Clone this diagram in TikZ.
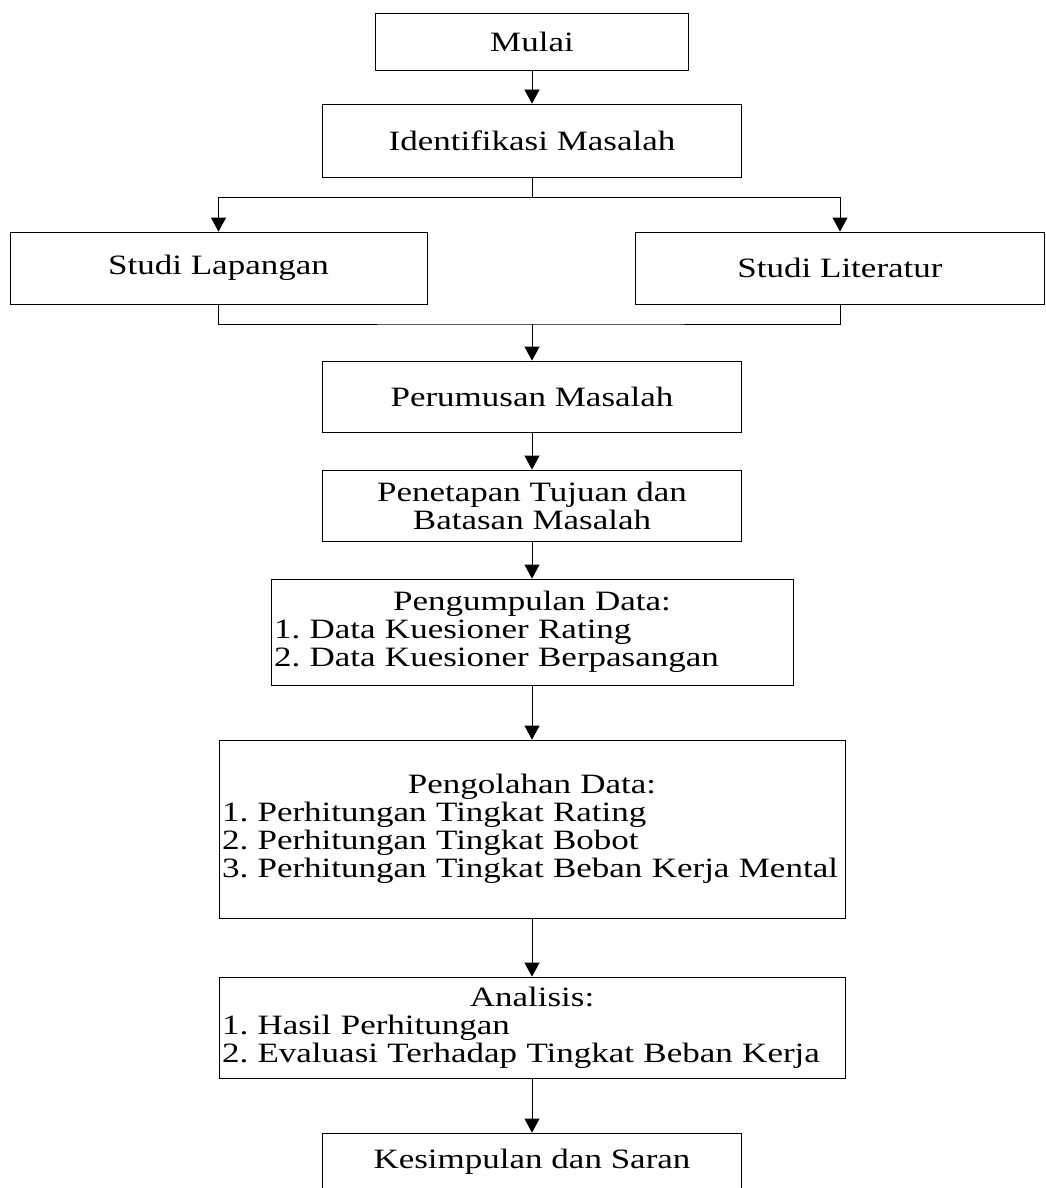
\documentclass[tikz,border=0pt]{standalone}
\usepackage{fontspec}
\setmainfont[FakeStretch=1.25]{Liberation Serif}
\usetikzlibrary{arrows.meta}
\frenchspacing

\tikzset{
  box/.style={draw, line width=0.8pt, inner sep=0pt, align=center,
    font=\fontsize{28pt}{28pt}\selectfont},
  listbox/.style={box, align=left, inner xsep=3pt},
  link/.style={line width=0.8pt},
  arr/.style={link, -{Triangle[width=15pt,length=14pt]}},
}

\begin{document}
\begin{tikzpicture}[x=1pt,y=-1pt]
\useasboundingbox (0,0) rectangle (1045,1188);
\clip (0,0) rectangle (1045,1188);

% boxes
\node[box, minimum width=313pt, minimum height=57pt] (mulai) at (532,41.5) {Mulai};
\node[box, minimum width=419pt, minimum height=73pt] (ident) at (532,140.5) {Identifikasi Masalah};
\node[box, minimum width=417pt, minimum height=72pt] (lapangan) at (218.5,268) {Studi Lapangan};
\node[box, minimum width=409pt, minimum height=72pt] (literatur) at (840,268) {Studi Literatur};
\node[box, minimum width=419pt, minimum height=71pt] (rumus) at (532,396.5) {Perumusan Masalah};
\node[box, minimum width=419pt, minimum height=71pt] (tujuan) at (532,505.5) {Penetapan Tujuan dan\\ Batasan Masalah};
\node[listbox, text width=516pt, minimum height=106pt] (kumpul) at (532,632)
  {{\centering Pengumpulan Data:\par}1. Data Kuesioner Rating\\2. Data Kuesioner Berpasangan};
\node[listbox, text width=620pt, minimum height=178pt] (olah) at (532,829)
  {{\centering Pengolahan Data:\par}1. Perhitungan Tingkat Rating\\2. Perhitungan Tingkat Bobot\\
   \mbox{3. Perhitungan Tingkat Beban Kerja Mental}};
\node[listbox, text width=620pt, minimum height=101pt] (analisis) at (532,1027.5)
  {{\centering Analisis:\par}1. Hasil Perhitungan\\2. Evaluasi Terhadap Tingkat Beban Kerja};
\node[box, minimum width=419pt, minimum height=57pt] (simpul) at (532,1161.5) {Kesimpulan dan Saran};

% connectors
\coordinate (split) at (532,197);
\coordinate (join) at (532,324);
\draw[arr] (mulai.south) -- (ident.north);
\draw[link] (ident.south) -- (split);
\draw[arr] (split) -| (lapangan.north);
\draw[arr] (split) -| (literatur.north);
\draw[link] (lapangan.south) |- (join) -| (literatur.south);
\draw[arr] (join) -- (rumus.north);
\draw[arr] (rumus.south) -- (tujuan.north);
\draw[arr] (tujuan.south) -- (kumpul.north);
\draw[arr] (kumpul.south) -- (olah.north);
\draw[arr] (olah.south) -- (analisis.north);
\draw[arr] (analisis.south) -- (simpul.north);
\end{tikzpicture}
\end{document}
